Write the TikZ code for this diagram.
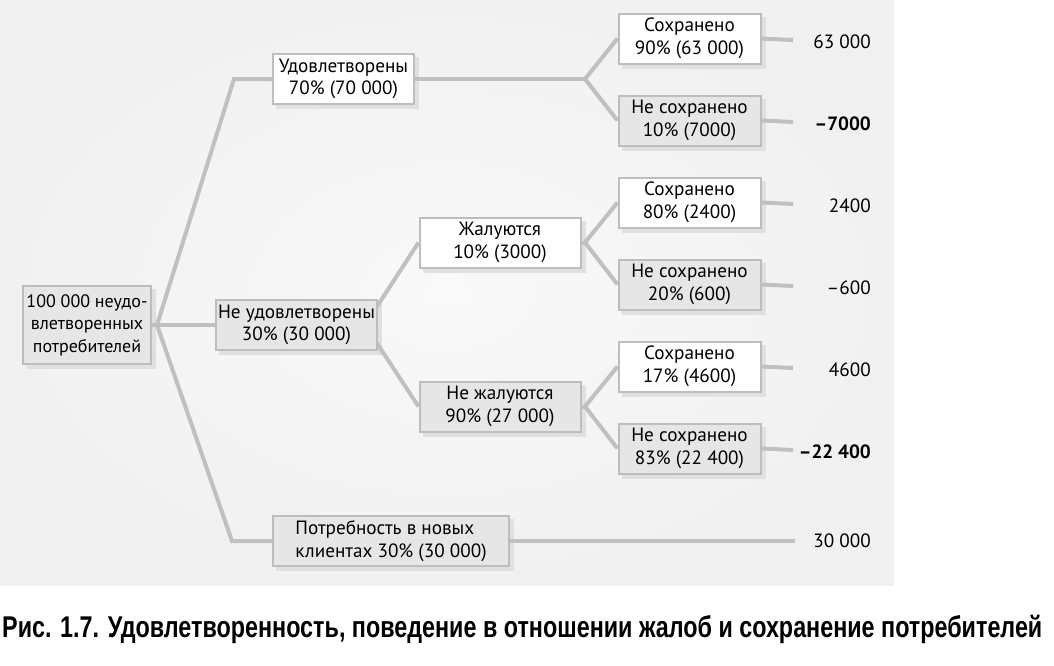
\documentclass[tikz,border=0pt]{standalone}
\usepackage{fontspec}
\setmainfont{PT Sans}
\newfontfamily\capfont{Liberation Sans}
\usepackage{graphicx}
\definecolor{linec}{RGB}{192,192,192}
\definecolor{boxc}{RGB}{189,189,189}
\definecolor{grayfill}{RGB}{230,230,230}
\definecolor{shadowc}{RGB}{224,224,224}
\definecolor{bgout}{RGB}{241,241,241}
\definecolor{bgin}{RGB}{249,249,249}
\pgfdeclarelayer{shadowl}
\pgfdeclarelayer{linel}
\pgfsetlayers{shadowl,linel,main}
\tikzset{
  box/.style={draw=boxc, line width=2pt, minimum height=50pt, inner sep=0pt,
    align=center, font=\fontsize{19.2}{22.5}\selectfont},
  wbox/.style={box, fill=white},
  gbox/.style={box, fill=grayfill},
  conn/.style={draw=linec, line width=4pt},
  val/.style={anchor=east, inner sep=0pt, font=\fontsize{19.2}{22.5}\selectfont},
}
\begin{document}
\begin{tikzpicture}[x=1pt,y=-1pt]
\useasboundingbox (0,0) rectangle (1054,665);
% nodes
\node[gbox, minimum width=128pt, minimum height=78pt, font=\fontsize{18}{22.5}\selectfont] (root) at (87,325) {100 000 неудо-\\влетворенных\\потребителей};
\node[wbox, minimum width=141pt] (n70) at (343.5,79) {Удовлетворены\\70\% (70 000)};
\node[gbox, minimum width=161pt] (n30) at (296.5,325) {Не удовлетворены\\30\% (30 000)};
\node[gbox, minimum width=236pt, align=left] (nnew) at (391,541) {Потребность в новых\\клиентах 30\% (30 000)};
\node[wbox, minimum width=161pt] (c1) at (500,242.5) {Жалуются\\10\% (3000)};
\node[gbox, minimum width=161pt] (nc) at (500,406.5) {Не жалуются\\90\% (27 000)};
\node[wbox, minimum width=142pt] (s1) at (689.5,38.5) {Сохранено\\90\% (63 000)};
\node[gbox, minimum width=142pt] (u1) at (689.5,120.5) {Не сохранено\\10\% (7000)};
\node[wbox, minimum width=142pt] (s2) at (689.5,202.5) {Сохранено\\80\% (2400)};
\node[gbox, minimum width=142pt] (u2) at (689.5,284.5) {Не сохранено\\20\% (600)};
\node[wbox, minimum width=142pt] (s3) at (689.5,366.5) {Сохранено\\17\% (4600)};
\node[gbox, minimum width=142pt] (u3) at (689.5,448.5) {Не сохранено\\83\% (22 400)};
% values
\node[val] (v1) at (871,42) {63 000};
\node[val] (v2) at (871,124) {\bfseries –7000};
\node[val] (v3) at (871,206) {2400};
\node[val] (v4) at (871,288) {–600};
\node[val] (v5) at (871,370) {4600};
\node[val] (v6) at (871,452) {\bfseries –22 400};
\node[val] (v7) at (871,541) {30 000};
% coordinates
\coordinate (f0) at (157,325);
\coordinate (k1) at (234,79);
\coordinate (k2) at (232,541);
\coordinate (f1) at (585,79);
\coordinate (f2) at (365,325);
\coordinate (f3) at (585,242.5);
\coordinate (f4) at (585,406.5);
\coordinate (e1) at (793,40);
\coordinate (e2) at (793,122);
\coordinate (e3) at (793,204);
\coordinate (e4) at (793,286);
\coordinate (e5) at (793,368);
\coordinate (e6) at (793,450);
\coordinate (e7) at (795,541);
% caption
\node[anchor=base west, inner sep=0pt] (cap) at (2,637) {\resizebox{1040pt}{\height}{\capfont\bfseries\fontsize{30}{34}\selectfont Рис. 1.7. Удовлетворенность, поведение в отношении жалоб и сохранение потребителей}};
% background and shadows
\begin{pgfonlayer}{shadowl}
\shade[inner color=bgin, outer color=bgout] (0,0) rectangle (894,585);
\foreach \n in {root,n70,n30,nnew,c1,nc,s1,u1,s2,u2,s3,u3}
  \fill[shadowc] ([shift={(4,4)}]\n.south west) rectangle ([shift={(4,4)}]\n.north east);
\end{pgfonlayer}
% connectors
\begin{pgfonlayer}{linel}
\draw[conn] (root.east) -- (f0);
\draw[conn] (f0) -- (k1) -- (n70.west);
\draw[conn] (f0) -- (n30.west);
\draw[conn] (f0) -- (k2) -- (nnew.west);
\draw[conn] (n70.east) -- (f1);
\draw[conn] (f1) -- (s1.west);
\draw[conn] (f1) -- (u1.west);
\draw[conn] (f2) -- (c1.west);
\draw[conn] (f2) -- (nc.west);
\draw[conn] (c1.east) -- (f3);
\draw[conn] (f3) -- (s2.west);
\draw[conn] (f3) -- (u2.west);
\draw[conn] (nc.east) -- (f4);
\draw[conn] (f4) -- (s3.west);
\draw[conn] (f4) -- (u3.west);
\draw[conn] (s1.east) -- (e1);
\draw[conn] (u1.east) -- (e2);
\draw[conn] (s2.east) -- (e3);
\draw[conn] (u2.east) -- (e4);
\draw[conn] (s3.east) -- (e5);
\draw[conn] (u3.east) -- (e6);
\draw[conn] (nnew.east) -- (e7);
\end{pgfonlayer}
\end{tikzpicture}
\end{document}
